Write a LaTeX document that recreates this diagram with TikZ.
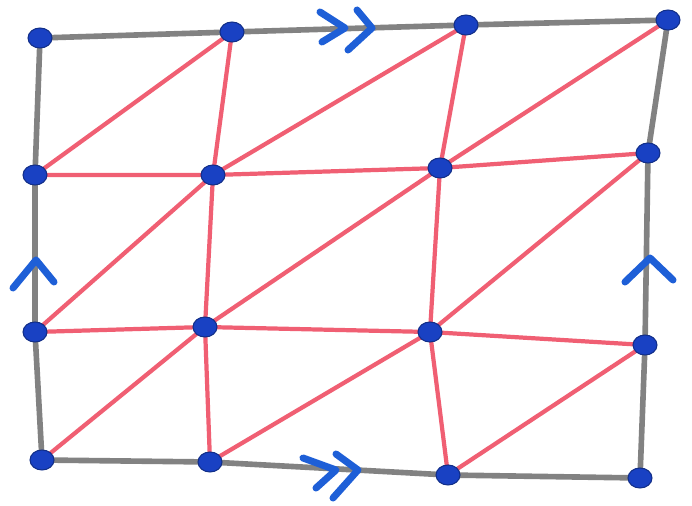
\documentclass[tikz,border=0pt]{standalone}
\usepackage{tikz}
\usetikzlibrary{shapes.geometric}
\definecolor{edgegray}{RGB}{130,130,130}
\definecolor{edgered}{RGB}{240,95,115}
\definecolor{dotblue}{RGB}{25,65,195}
\definecolor{markblue}{RGB}{30,95,215}
\tikzset{
      vertexdot/.style={
        ellipse,
        fill=dotblue,
        draw=dotblue!70!black,
        line width=1.5pt,
        minimum width=1.2cm,
        minimum height=1.0cm,
        inner sep=0pt
      },
      borderline/.style={
        draw=edgegray,
        line width=8pt,
        line cap=round
      },
      innerline/.style={
        draw=edgered,
        line width=6pt,
        line cap=round
      },
      gluemark/.style={
        draw=markblue,
        line width=10pt,
        line cap=round,
        line join=round
      }
    }

\begin{document}
\begin{tikzpicture}[x=0.05cm,y=-0.05cm]
    \useasboundingbox (0,0) rectangle (692,506);
    % vertices of the square torus grid
    \foreach \vname/\vx/\vy in {
        v00/40/38, v01/232/32, v02/466/25, v03/668/20,
        v10/35/175, v11/213/175, v12/440/168, v13/648/153,
        v20/35/332, v21/205/327, v22/430/332, v23/645/345,
        v30/42/460, v31/210/462, v32/448/475, v33/640/478}
      \coordinate (\vname) at (\vx,\vy);
    % red interior edges and diagonals
    \foreach \r/\s in {1/0,2/1,3/2} {
      \foreach \c/\d in {0/1,1/2,2/3} {
        \draw[innerline] (v\r\c) -- (v\s\d);
      }
    }
    \foreach \r in {1,2} {
      \draw[innerline] (v\r0) -- (v\r1) -- (v\r2) -- (v\r3);
      \draw[innerline] (v0\r) -- (v1\r) -- (v2\r) -- (v3\r);
    }
    % gray border
    \draw[borderline] (v00) -- (v01) -- (v02) -- (v03) -- (v13) -- (v23) -- (v33)
      -- (v32) -- (v31) -- (v30) -- (v20) -- (v10) -- cycle;
    % gluing marks
    \coordinate (tl1) at (320,12); \coordinate (tl2) at (345,28); \coordinate (tl3) at (322,42);
    \coordinate (tr1) at (357,10); \coordinate (tr2) at (372,28); \coordinate (tr3) at (348,50);
    \coordinate (bl1) at (303,458); \coordinate (bl2) at (336,470); \coordinate (bl3) at (316,488);
    \coordinate (br1) at (336,454); \coordinate (br2) at (358,470); \coordinate (br3) at (333,498);
    \coordinate (lm1) at (13,288); \coordinate (lm2) at (36,260); \coordinate (lm3) at (54,282);
    \coordinate (rm1) at (625,282); \coordinate (rm2) at (650,258); \coordinate (rm3) at (673,280);
    \draw[gluemark] (tl1) -- (tl2) -- (tl3);
    \draw[gluemark] (tr1) -- (tr2) -- (tr3);
    \draw[gluemark] (bl1) -- (bl2) -- (bl3);
    \draw[gluemark] (br1) -- (br2) -- (br3);
    \draw[gluemark] (lm1) -- (lm2) -- (lm3);
    \draw[gluemark] (rm1) -- (rm2) -- (rm3);
    % vertex dots
    \foreach \vname in {v00,v01,v02,v03,v10,v11,v12,v13,v20,v21,v22,v23,v30,v31,v32,v33}
      \node[vertexdot] (d\vname) at (\vname) {};
  \end{tikzpicture}
\end{document}
